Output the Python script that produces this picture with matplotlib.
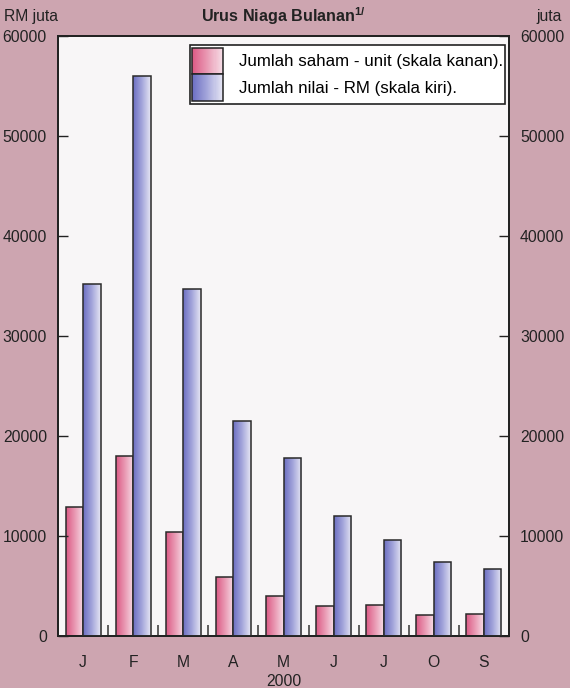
import numpy as np
import matplotlib
matplotlib.use("Agg")
import matplotlib.pyplot as plt
from matplotlib.patches import Rectangle
from matplotlib.colors import LinearSegmentedColormap

plt.rcParams['font.family'] = ['Liberation Sans', 'DejaVu Sans']
plt.rcParams['mathtext.fontset'] = 'custom'
plt.rcParams['mathtext.rm'] = 'Liberation Sans'
plt.rcParams['mathtext.bf'] = 'Liberation Sans:bold'

# ---- data ----
months = ['J', 'F', 'M', 'A', 'M', 'J', 'J', 'O', 'S']
saham_unit = [12900, 18000, 10400, 5900, 4000, 3000, 3100, 2100, 2200]      # right scale
nilai_rm = [35200, 56000, 34700, 21500, 17800, 12000, 9600, 7400, 6700]     # left scale
yticks = [0, 10000, 20000, 30000, 40000, 50000, 60000]
label_saham = 'Jumlah saham - unit (skala kanan).'
label_nilai = 'Jumlah nilai - RM (skala kiri).'

BG = '#cda5b0'
PLOT_BG = '#f8f6f7'
pink_cmap = LinearSegmentedColormap.from_list('pk', ['#dc5a85', '#e999b3', '#f6dde6'])
blue_cmap = LinearSegmentedColormap.from_list('bl', ['#6c6fc2', '#a4a6db', '#e6e6f4'])

fig = plt.figure(figsize=(5.70, 6.88), dpi=100, facecolor=BG)
ax = fig.add_axes([58/570, 1-636/688, 451/570, 600/688])
ax2 = ax.twinx()

x = np.arange(len(months))
w = 0.35
grad = np.linspace(0, 1, 64).reshape(1, -1)

bars_p = ax2.bar(x - w/2, saham_unit, w, facecolor='none', edgecolor='#2a2a2a', linewidth=1.1, zorder=3)
bars_b = ax.bar(x + w/2, nilai_rm, w, facecolor='none', edgecolor='#2a2a2a', linewidth=1.1, zorder=3)

for axis, bars, cmap in [(ax2, bars_p, pink_cmap), (ax, bars_b, blue_cmap)]:
    for b in bars:
        x0, y0 = b.get_x(), b.get_y()
        axis.imshow(grad, cmap=cmap, aspect='auto', zorder=2,
                    extent=(x0, x0 + b.get_width(), y0, y0 + b.get_height()),
                    interpolation='bilinear')

for a in (ax, ax2):
    a.set_ylim(0, 60000)
    a.set_xlim(-0.5, len(months) - 0.5)
    a.set_yticks(yticks)
    a.tick_params(axis='y', direction='in', length=7, width=1.0, labelsize=11.3, pad=8, colors='#222222')

ax.set_xticks(x)
ax.set_xticklabels(months)
ax.tick_params(axis='x', length=0, labelsize=11.3, pad=14, colors='#222222')
ax.set_xticks(x[:-1] + 0.5, minor=True)
ax.tick_params(axis='x', which='minor', direction='in', length=8, width=1.2, color='#444444')
ax.set_xlabel('2000', fontsize=11.3, labelpad=0, color='#222222')
ax.xaxis.set_label_coords(0.5, -0.064)

for a in (ax, ax2):
    for s in a.spines.values():
        s.set_color('#222222')
        s.set_linewidth(1.3)

fig.text(283/570, 1-16/688, r'Urus Niaga Bulanan$^{\mathbf{1/}}$', ha='center', va='center',
         fontsize=11.6, fontweight='bold', color='#222222')
fig.text(4/570, 1-16/688, 'RM juta', ha='left', va='center', fontsize=11.3, color='#222222')
fig.text(562/570, 1-16/688, 'juta', ha='right', va='center', fontsize=11.3, color='#222222')


class GradHandler:
    def __init__(self, cmap):
        self.cmap = cmap

    def legend_artist(self, legend, orig_handle, fontsize, handlebox):
        wd, ht = handlebox.width, handlebox.height
        ox, oy = -handlebox.xdescent, -handlebox.ydescent
        n = 30
        for i in range(n):
            r = Rectangle((ox + i * wd / n, oy), wd / n + 0.3, ht,
                          facecolor=self.cmap(i / (n - 1)), edgecolor='none',
                          transform=handlebox.get_transform())
            handlebox.add_artist(r)
        outline = Rectangle((ox, oy), wd, ht, facecolor='none',
                            edgecolor='#222222', linewidth=1.1, transform=handlebox.get_transform())
        handlebox.add_artist(outline)
        return outline


hp = Rectangle((0, 0), 1, 1)
hb = Rectangle((0, 0), 1, 1)
leg = ax.legend([hp, hb], [label_saham, label_nilai],
                handler_map={hp: GradHandler(pink_cmap), hb: GradHandler(blue_cmap)},
                loc='upper right', bbox_to_anchor=(0.992, 0.985), fontsize=12.2,
                frameon=True, fancybox=False, edgecolor='#222222', framealpha=1,
                facecolor='white', handlelength=1.8, handleheight=2.05, labelspacing=0.0,
                handletextpad=0.95, borderpad=0.15, borderaxespad=0.0)
leg.get_frame().set_linewidth(1.2)
leg.set_zorder(10)
ax.set_zorder(ax2.get_zorder() + 1)
ax.patch.set_visible(False)
ax2.patch.set_visible(True)
ax2.set_facecolor(PLOT_BG)

fig.savefig('out.png', dpi=100, facecolor=BG)
